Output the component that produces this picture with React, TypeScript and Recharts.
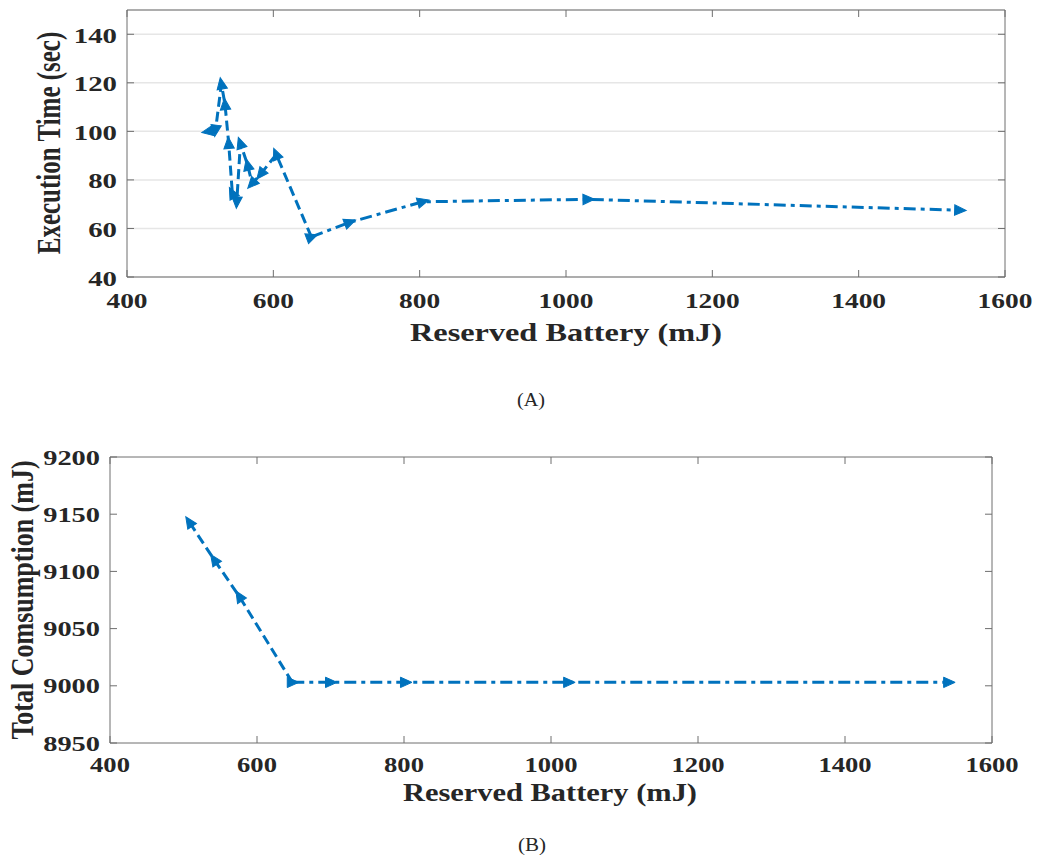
import React from "react";
import { LineChart, Line, XAxis, YAxis, CartesianGrid, ReferenceArea } from "recharts";

// ---------- data ----------
const xTicks = [400, 600, 800, 1000, 1200, 1400, 1600];
const execYTicks = [40, 60, 80, 100, 120, 140];
const consYTicks = [8950, 9000, 9050, 9100, 9150, 9200];

// (A) execution time: branch going left from 650 mJ (dashed) and branch going right (dash-dot)
const execLeftX = [652, 604, 583, 571, 565, 555, 550, 544, 539, 534, 529, 521, 511];
const execLeftY = [56.5, 90.5, 82.5, 78.5, 86, 95, 71, 74.5, 95, 111, 119.5, 100.5, 100];
const execRightX = [652, 704, 804, 1030, 1538];
const execRightY = [56.5, 62.5, 71, 72, 67.5];

// (B) total consumption
const consLeftX = [648, 576, 542, 508];
const consLeftY = [9003, 9078, 9110, 9143];
const consRightX = [648, 700, 802, 1024, 1541];
const consRightY = [9003, 9003, 9003, 9003, 9003];

const toRows = (xs: number[], ys: number[]) => xs.map((x, i) => ({ x, y: ys[i] }));
const execLeft = toRows(execLeftX, execLeftY);
const execRight = toRows(execRightX, execRightY);
const consLeft = toRows(consLeftX, consLeftY);
const consRight = toRows(consRightX, consRightY);

// ---------- style ----------
const BLUE = "#0072BD";
const FRAME = "#6e6e6e";
const TXT = "#262626";
const FONT = "'Liberation Serif', 'Times New Roman', serif";
const TICK_LEN = 7;

function ArrowDot(props: any) {
  const { cx, cy, index, points, skipFirst } = props;
  if (cx == null || cy == null) return <g />;
  if (skipFirst && index === 0) return <g />;
  let ang = 0;
  if (points && points.length > 1) {
    const a = index > 0 ? points[index - 1] : points[0];
    const b = index > 0 ? points[index] : points[1];
    ang = (Math.atan2(b.y - a.y, b.x - a.x) * 180) / Math.PI;
  }
  return (
    <path
      d="M6.5,0 L-5,-5.2 L-5,5.2 Z"
      transform={`translate(${cx},${cy}) rotate(${ang})`}
      fill={BLUE}
      stroke={BLUE}
      strokeWidth={1}
    />
  );
}

const dotFn = (skipFirst: boolean) => (p: any) => {
  const { key, ...rest } = p;
  return <ArrowDot key={key} {...rest} skipFirst={skipFirst} />;
};

const makeXTick = (plotH: number, fontSize: number, dy: number, digitW: number) => (p: any) => {
  const { x, y, payload } = p;
  const label = String(payload.value);
  return (
    <g>
      <line x1={x} y1={y} x2={x} y2={y - TICK_LEN} stroke={FRAME} strokeWidth={1} />
      <line x1={x} y1={y - plotH} x2={x} y2={y - plotH + TICK_LEN} stroke={FRAME} strokeWidth={1} />
      <text
        x={x}
        y={y + dy}
        textAnchor="middle"
        fontFamily={FONT}
        fontWeight="bold"
        fontSize={fontSize}
        fill={TXT}
        textLength={label.length * digitW}
        lengthAdjust="spacingAndGlyphs"
      >
        {label}
      </text>
    </g>
  );
};

const makeYTick = (plotW: number, fontSize: number, dy: number, digitW: number) => (p: any) => {
  const { x, y, payload } = p;
  const label = String(payload.value);
  return (
    <g>
      <line x1={x} y1={y} x2={x + TICK_LEN} y2={y} stroke={FRAME} strokeWidth={1} />
      <line x1={x + plotW} y1={y} x2={x + plotW - TICK_LEN} y2={y} stroke={FRAME} strokeWidth={1} />
      <text
        x={x - 10}
        y={y + dy}
        textAnchor="end"
        fontFamily={FONT}
        fontWeight="bold"
        fontSize={fontSize}
        fill={TXT}
        textLength={label.length * digitW}
        lengthAdjust="spacingAndGlyphs"
      >
        {label}
      </text>
    </g>
  );
};

export default function App() {
  // chart A: plot area 127..1005 x 10..277
  const aW = 1040, aH = 330;
  const aPlot = { left: 127, top: 10, right: 1005, bottom: 277 };
  // chart B: plot area 110..992 x 457..743 (page), chart placed at top 440
  const bTop = 440;
  const bW = 1040, bH = 340;
  const bPlot = { left: 110, top: 457 - bTop, right: 992, bottom: 743 - bTop };
  const yAxisW = 60, xAxisH = 30;

  return (
    <div style={{ position: "absolute", left: 0, top: 0, width: 1040, height: 861, background: "#fff" }}>
      <div style={{ position: "absolute", left: 0, top: 0 }}>
        <LineChart
          width={aW}
          height={aH}
          margin={{
            top: aPlot.top,
            left: aPlot.left - yAxisW,
            right: aW - aPlot.right,
            bottom: aH - aPlot.bottom - xAxisH,
          }}
        >
          <CartesianGrid vertical={false} stroke="#e6e6e6" strokeWidth={1.5} />
          <XAxis
            dataKey="x"
            type="number"
            domain={[400, 1600]}
            ticks={xTicks}
            tickSize={0}
            tickMargin={0}
            axisLine={false}
            height={xAxisH}
            interval={0}
            tick={makeXTick(aPlot.bottom - aPlot.top, 20, 31, 13.7)}
          />
          <YAxis
            dataKey="y"
            type="number"
            domain={[40, 150]}
            ticks={execYTicks}
            tickSize={0}
            tickMargin={0}
            axisLine={false}
            width={yAxisW}
            interval={0}
            tick={makeYTick(aPlot.right - aPlot.left, 21, 8.5, 14.4)}
          />
          <ReferenceArea x1={400} x2={1600} y1={40} y2={150} fill="none" stroke={FRAME} strokeWidth={1} />
          <Line
            data={execLeft}
            dataKey="y"
            stroke={BLUE}
            strokeWidth={3}
            strokeDasharray="10 5"
            dot={dotFn(true)}
            activeDot={false}
            isAnimationActive={false}
            type="linear"
          />
          <Line
            data={execRight}
            dataKey="y"
            stroke={BLUE}
            strokeWidth={3}
            strokeDasharray="12 5 4 5"
            dot={dotFn(false)}
            activeDot={false}
            isAnimationActive={false}
            type="linear"
          />
        </LineChart>
      </div>

      <div style={{ position: "absolute", left: 0, top: bTop }}>
        <LineChart
          width={bW}
          height={bH}
          margin={{
            top: bPlot.top,
            left: bPlot.left - yAxisW,
            right: bW - bPlot.right,
            bottom: bH - bPlot.bottom - xAxisH,
          }}
        >
          <XAxis
            dataKey="x"
            type="number"
            domain={[400, 1600]}
            ticks={xTicks}
            tickSize={0}
            tickMargin={0}
            axisLine={false}
            height={xAxisH}
            interval={0}
            tick={makeXTick(bPlot.bottom - bPlot.top, 22, 29, 13.3)}
          />
          <YAxis
            dataKey="y"
            type="number"
            domain={[8950, 9200]}
            ticks={consYTicks}
            tickSize={0}
            tickMargin={0}
            axisLine={false}
            width={yAxisW}
            interval={0}
            tick={makeYTick(bPlot.right - bPlot.left, 22, 7.5, 14.2)}
          />
          <ReferenceArea x1={400} x2={1600} y1={8950} y2={9200} fill="none" stroke={FRAME} strokeWidth={1} />
          <Line
            data={consLeft}
            dataKey="y"
            stroke={BLUE}
            strokeWidth={3}
            strokeDasharray="10 5"
            dot={dotFn(true)}
            activeDot={false}
            isAnimationActive={false}
            type="linear"
          />
          <Line
            data={consRight}
            dataKey="y"
            stroke={BLUE}
            strokeWidth={3}
            strokeDasharray="12 5 4 5"
            dot={dotFn(false)}
            activeDot={false}
            isAnimationActive={false}
            type="linear"
          />
        </LineChart>
      </div>

      <svg
        width={1040}
        height={861}
        style={{ position: "absolute", left: 0, top: 0, pointerEvents: "none" }}
      >
        <text
          transform="translate(60,143) rotate(-90) scale(1,1.35)"
          textAnchor="middle"
          fontFamily={FONT}
          fontWeight="bold"
          fontSize={25}
          fill={TXT}
        >
          Execution Time (sec)
        </text>
        <text
          x={566}
          y={341}
          textAnchor="middle"
          fontFamily={FONT}
          fontWeight="bold"
          fontSize={26}
          fill={TXT}
          textLength={312}
          lengthAdjust="spacingAndGlyphs"
        >
          Reserved Battery (mJ)
        </text>
        <text
          x={531}
          y={406}
          textAnchor="middle"
          fontFamily={FONT}
          fontSize={18}
          fill={TXT}
          textLength={28}
          lengthAdjust="spacingAndGlyphs"
        >
          (A)
        </text>
        <text
          transform="translate(33,600) rotate(-90) scale(1,1.18)"
          textAnchor="middle"
          fontFamily={FONT}
          fontWeight="bold"
          fontSize={26}
          fill={TXT}
        >
          Total Comsumption (mJ)
        </text>
        <text
          x={550}
          y={801}
          textAnchor="middle"
          fontFamily={FONT}
          fontWeight="bold"
          fontSize={26}
          fill={TXT}
          textLength={294}
          lengthAdjust="spacingAndGlyphs"
        >
          Reserved Battery (mJ)
        </text>
        <text
          x={532}
          y={851}
          textAnchor="middle"
          fontFamily={FONT}
          fontSize={18}
          fill={TXT}
          textLength={28}
          lengthAdjust="spacingAndGlyphs"
        >
          (B)
        </text>
      </svg>
    </div>
  );
}
